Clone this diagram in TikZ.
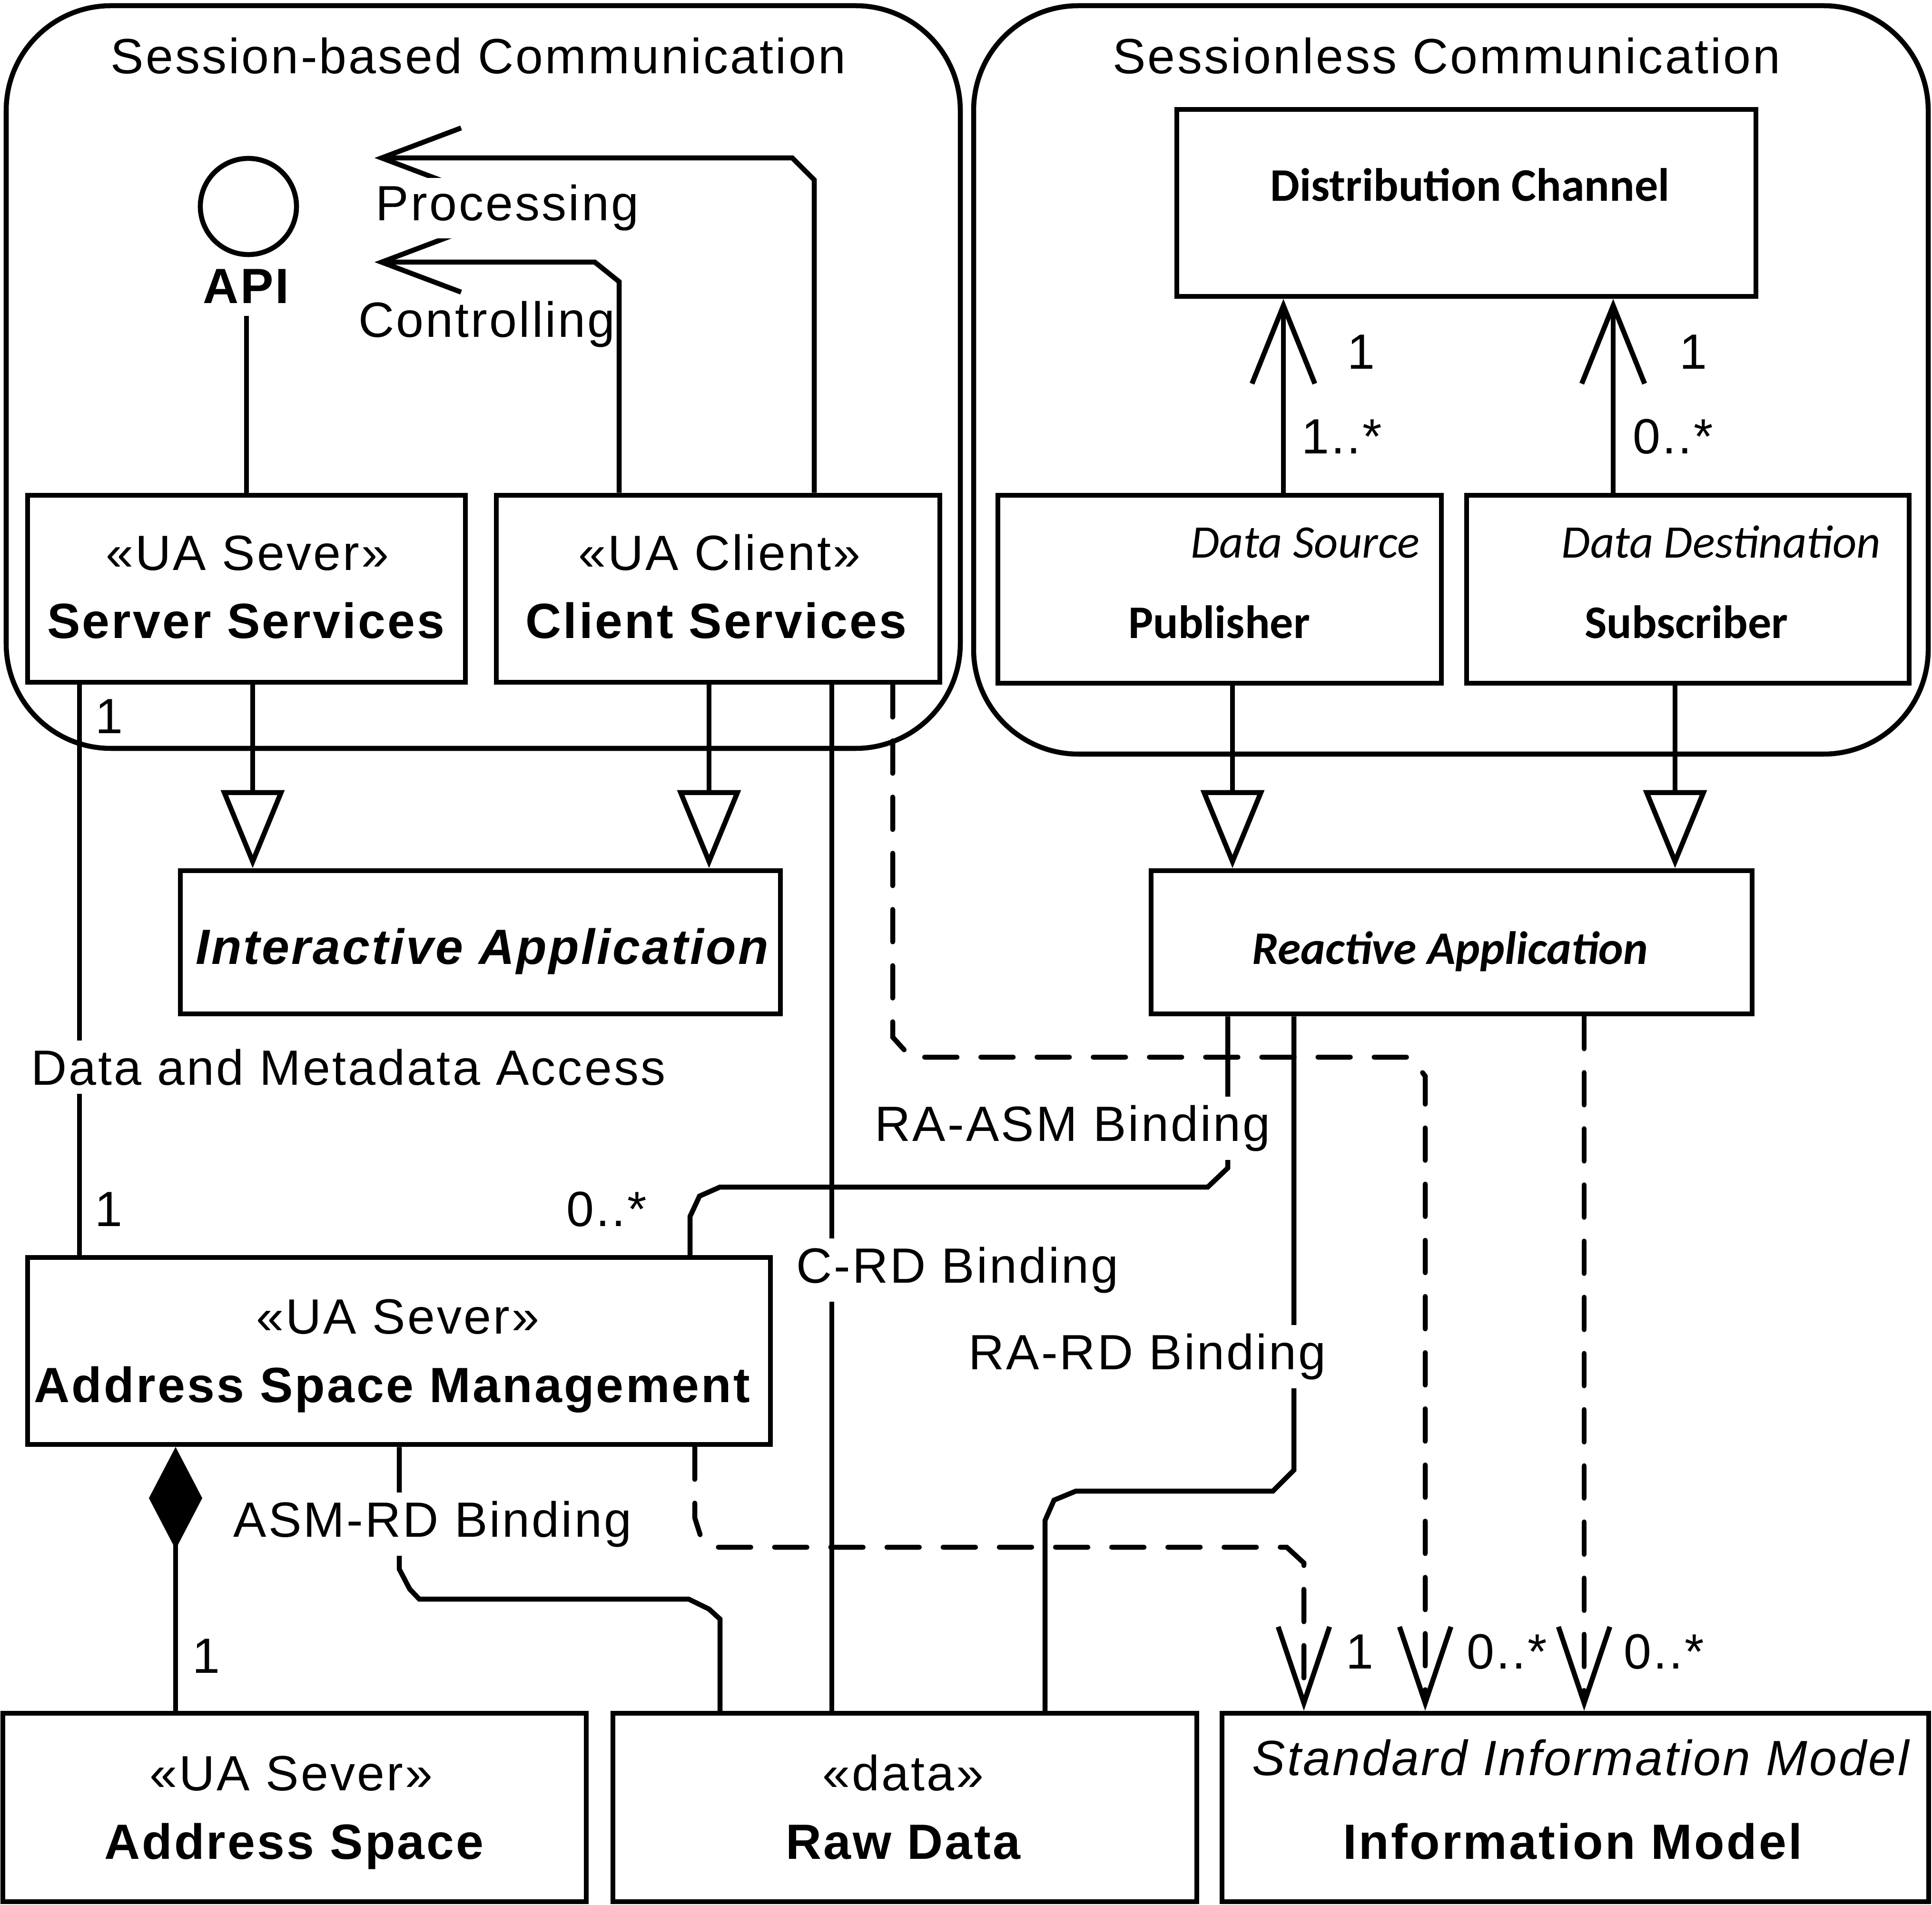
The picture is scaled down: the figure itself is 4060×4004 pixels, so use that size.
\documentclass[tikz,border=0pt]{standalone}
\usepackage{fontspec}
\setmainfont[LetterSpace=4]{Liberation Sans}
\newfontfamily\calf{Carlito}
\usetikzlibrary{arrows.meta,fit}
\begin{document}
\begin{tikzpicture}[x=0.01cm,y=-0.01cm,
  box/.style={draw,line width=0.105cm,inner sep=0pt},
  ln/.style={line width=0.105cm},
  dsh/.style={ln,line cap=round,dash pattern=on 0.68cm off 0.5cm},
  ar/.style={font=\fontsize{29.6pt}{35pt}\selectfont,inner sep=0pt},
  arb/.style={font=\fontsize{29.6pt}{35pt}\selectfont\bfseries,inner sep=0pt},
  ca/.style={font=\calf\fontsize{27.9pt}{33pt}\selectfont,inner sep=0pt},
  lbl/.style={ar,fill=white,inner sep=0.18cm},
  barbA/.tip={Straight Barb[length=1.67cm,width=1.26cm]},
  barbB/.tip={Straight Barb[length=1.64cm,width=1.32cm]},
  barbC/.tip={Straight Barb[length=1.6cm,width=1.08cm]},
  gen/.tip={Triangle[open,length=1.64cm,width=1.32cm]},
  comp/.tip={Diamond[length=2.15cm,width=1.12cm]}]
\useasboundingbox (0,0) rectangle (4060,4004);

% containers
\draw[ln,rounded corners=2.2cm] (13,12) rectangle (2018,1573);
\draw[ln,rounded corners=2.2cm] (2046,12) rectangle (4052,1585);
\node[ar,anchor=base] (t1) at (1005,155) {Session-based Communication};
\node[ar,anchor=base] (t2) at (3040,155) {Sessionless Communication};

% boxes
\node[box,fit={(58,1041) (978,1434)}] (ss) {};
\node[box,fit={(1043,1041) (1975,1434)}] (cs) {};
\node[box,fit={(2473,230) (3690,623)}] (dc) {};
\node[box,fit={(2097,1041) (3029,1436)}] (pub) {};
\node[box,fit={(3082,1041) (4012,1436)}] (sub) {};
\node[box,fit={(379,1830) (1640,2131)}] (ia) {};
\node[box,fit={(2419,1830) (3682,2131)}] (ra) {};
\node[box,fit={(58,2643) (1619,3036)}] (asm) {};
\node[box,fit={(6,3601) (1232,3997)}] (as) {};
\node[box,fit={(1288,3601) (2515,3997)}] (rd) {};
\node[box,fit={(2568,3601) (4053,3997)}] (im) {};
\node[draw,circle,line width=0.105cm,minimum size=2.02cm,inner sep=0pt] (api) at (522,434) {};
\node[arb,anchor=base,inner ysep=0.25cm] (apit) at (517,638) {API};

% box texts
\node[ar,anchor=base] (sst) at (520,1199) {«UA Sever»};
\node[arb,anchor=base] (ssn) at (517,1342) {Server Services};
\node[ar,anchor=base] (cst) at (1512,1199) {«UA Client»};
\node[arb,anchor=base] (csn) at (1505,1342) {Client Services};
\node[ca,font=\calf\fontsize{27.9pt}{33pt}\selectfont\bfseries,anchor=base] (dcn) at (3089,423) {Distribution Channel};
\node[ca,font=\calf\fontsize{27.9pt}{33pt}\selectfont\itshape,anchor=base east] (pubt) at (2984,1173) {Data Source};
\node[ca,font=\calf\fontsize{27.9pt}{33pt}\selectfont\bfseries,anchor=base] (pubn) at (2562,1342) {Publisher};
\node[ca,font=\calf\fontsize{27.9pt}{33pt}\selectfont\itshape,anchor=base] (subt) at (3617,1173) {Data Destination};
\node[ca,font=\calf\fontsize{27.9pt}{33pt}\selectfont\bfseries,anchor=base] (subn) at (3544,1342) {Subscriber};
\node[arb,font=\fontsize{29.6pt}{35pt}\selectfont\bfseries\itshape,anchor=base] (ian) at (1013,2026) {Interactive Application};
\node[ca,font=\calf\fontsize{27.9pt}{33pt}\selectfont\bfseries\itshape,anchor=base] (ran) at (3047,2026) {Reactive Application};
\node[ar,anchor=base] (asmt) at (836,2803) {«UA Sever»};
\node[arb,anchor=base] (asmn) at (824,2947) {Address Space Management};
\node[ar,anchor=base] (ast) at (612,3763) {«UA Sever»};
\node[arb,anchor=base] (asn) at (618,3907) {Address Space};
\node[ar,anchor=base] (rdt) at (1898,3763) {«data»};
\node[arb,anchor=base] (rdn) at (1898,3907) {Raw Data};
\node[ar,font=\fontsize{29.6pt}{35pt}\selectfont\itshape,anchor=base] (imt) at (3322,3731) {Standard Information Model};
\node[arb,anchor=base] (imn) at (3305,3907) {Information Model};

% connectors
\draw[ln] (ss.north) -- (ss.north |- apit.south);
\coordinate (ptip) at (787,332);
\coordinate (ctip) at (787,551);
\draw[ln,-barbA] (cs.north -| 1711,0) -- (1711,378) -- (1665,332) -- (ptip);
\draw[ln,-barbA] (cs.north -| 1301,0) -- (1301,592) -- (1250,551) -- (ctip);
\node[lbl,anchor=base,inner sep=0.15cm] (proc) at (1066,464) {Processing};
\node[ar,anchor=base] (ctrl) at (1023,709) {Controlling};

\draw[ln] (ss.south -| 167,0) -- (asm.north -| 167,0);
\draw[ln,-gen] (ss.south -| 531,0) -- (ia.north -| 531,0);
\draw[ln,-gen] (cs.south -| 1490,0) -- (ia.north -| 1490,0);
\draw[ln] (cs.south -| 1748,0) -- (rd.north -| 1748,0);
\draw[dsh,-barbC] (cs.south -| 1876,0) -- (1876,2180) -- (1914,2222) -- (2965,2222) -- (2995,2262) -- (im.north -| 2995,0);

\draw[ln,-barbB] (pub.north -| 2697,0) -- (dc.south -| 2697,0);
\draw[ln,-barbB] (sub.north -| 3390,0) -- (dc.south -| 3390,0);
\draw[ln,-gen] (pub.south -| 2590,0) -- (ra.north -| 2590,0);
\draw[ln,-gen] (sub.south -| 3520,0) -- (ra.north -| 3520,0);

\draw[ln] (ra.south -| 2580,0) -- (2580,2455) -- (2538,2495) -- (1513,2495) -- (1470,2514) -- (1450,2557) -- (asm.north -| 1450,0);
\draw[ln] (ra.south -| 2719,0) -- (2719,3090) -- (2675,3134) -- (2261,3134) -- (2215,3153) -- (2196,3196) -- (rd.north -| 2196,0);
\draw[dsh,-barbC] (ra.south -| 3329,0) -- (im.north -| 3329,0);

\draw[ln,comp-] (asm.south -| 369,0) -- (as.north -| 369,0);
\draw[ln] (asm.south -| 839,0) -- (839,3298) -- (861,3340) -- (881,3361) -- (1447,3361) -- (1490,3382) -- (1513,3403) -- (rd.north -| 1513,0);
\draw[dsh,-barbC] (asm.south -| 1460,0) -- (1460,3190) -- (1472,3228) -- (1496,3252) -- (2704,3252) -- (2740,3285) -- (im.north -| 2740,0);

% connector labels
\node[lbl,anchor=base] (dma) at (732,2280) {Data and Metadata Access};
\node[lbl,anchor=base] (raasm) at (2254,2398) {RA-ASM Binding};
\node[lbl,anchor=base] (crd) at (2012,2696) {C-RD Binding};
\node[lbl,anchor=base] (rard) at (2411,2878) {RA-RD Binding};
\node[lbl,anchor=base] (asmrd) at (909,3230) {ASM-RD Binding};

% multiplicities
\node[ar,anchor=base west] (m1) at (200,1541) {1};
\node[ar,anchor=base west] (m2) at (199,2577) {1};
\node[ar,anchor=base west] (m3) at (1190,2577) {0..*};
\node[ar,anchor=base west] (m4) at (2831,776) {1};
\node[ar,anchor=base west] (m5) at (2735,954) {1..*};
\node[ar,anchor=base west] (m6) at (3529,776) {1};
\node[ar,anchor=base west] (m7) at (3431,954) {0..*};
\node[ar,anchor=base west] (m8) at (404,3516) {1};
\node[ar,anchor=base west] (m9) at (2828,3507) {1};
\node[ar,anchor=base west] (m10) at (3082,3507) {0..*};
\node[ar,anchor=base west] (m11) at (3412,3507) {0..*};
\end{tikzpicture}
\end{document}
